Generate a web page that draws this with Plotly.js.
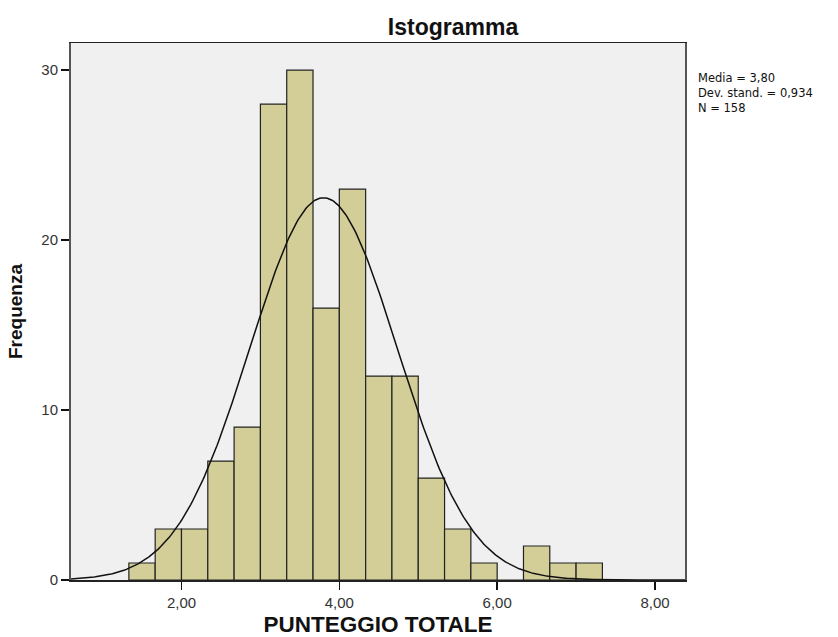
<!DOCTYPE html>
<html>
<head>
<meta charset="utf-8">
<script src="https://cdn.plot.ly/plotly-3.0.1.min.js"></script>
<style>
html,body{margin:0;padding:0;background:#fff;}
#chart{width:838px;height:637px;}
</style>
</head>
<body>
<div id="chart"></div>
<script>
// Histogram bins (left edges) and counts
const binLeft = [4/3, 5/3, 2, 7/3, 8/3, 3, 10/3, 11/3, 4, 13/3, 14/3, 5, 16/3, 17/3, 6, 19/3, 20/3, 7];
const counts  = [1, 3, 3, 7, 9, 28, 30, 16, 23, 12, 12, 6, 3, 1, 0, 2, 1, 1];
const binWidth = 1/3;

// Summary statistics shown on the chart
const statMean = 3.80;
const statSD = 0.934;
const statN = 158;

// Axis ticks
const xTickVals = [2, 4, 6, 8];
const xTickText = ['2,00', '4,00', '6,00', '8,00'];
const yTickVals = [0, 10, 20, 30];
const yTickText = ['0', '10', '20', '30'];

const statLines = ['Media = 3,80', 'Dev. stand. = 0,934', 'N = 158'];

const xRange = [0.60, 8.38];
const yRange = [0, 31.6];

const binCenters = binLeft.map(v => v + binWidth / 2);

// Fitted normal curve defined by the chart's mean, SD and N
const curveX = [], curveY = [];
for (let i = 0; i <= 400; i++) {
  const x = xRange[0] + (xRange[1] - xRange[0]) * i / 400;
  const z = (x - statMean) / statSD;
  curveX.push(x);
  curveY.push(statN * binWidth / (statSD * Math.sqrt(2 * Math.PI)) * Math.exp(-0.5 * z * z));
}

const traces = [
  {
    type: 'bar',
    x: binCenters,
    y: counts,
    width: binWidth,
    marker: {color: '#d3ce97', line: {color: '#222222', width: 1.2}},
    hoverinfo: 'x+y',
    showlegend: false
  },
  {
    type: 'scatter',
    mode: 'lines',
    x: curveX,
    y: curveY,
    line: {color: '#111111', width: 1.5},
    hoverinfo: 'skip',
    showlegend: false
  }
];

const annotations = [{
  xref: 'paper', yref: 'paper',
  x: (696 - 71) / 614,
  y: (580 - 69) / 537,
  xanchor: 'left', yanchor: 'top',
  align: 'left',
  text: statLines.join('<br>'),
  showarrow: false,
  font: {family: 'DejaVu Sans, Arial, sans-serif', size: 11.5, color: '#111111'}
}];

const layout = {
  width: 838,
  height: 637,
  margin: {l: 71, r: 153, t: 43, b: 57},
  paper_bgcolor: '#ffffff',
  plot_bgcolor: '#f0f0f0',
  bargap: 0,
  title: {
    text: '<b>Istogramma</b>',
    font: {family: 'Liberation Sans, Arial, sans-serif', size: 23, color: '#111111'},
    x: 453 / 838, xanchor: 'center',
    y: 1 - 27 / 637, yanchor: 'middle'
  },
  xaxis: {
    range: xRange,
    tickvals: xTickVals,
    ticktext: xTickText,
    ticks: 'outside', ticklen: 8, tickwidth: 1.5, tickcolor: '#111111',
    tickfont: {family: 'Liberation Sans, Arial, sans-serif', size: 15, color: '#333333'},
    showgrid: false, zeroline: false,
    showline: true, linecolor: '#222222', linewidth: 1.5, mirror: true,
    title: {
      text: '<b>PUNTEGGIO TOTALE</b>',
      font: {family: 'Liberation Sans, Arial, sans-serif', size: 22.5, color: '#111111'},
      standoff: 10
    }
  },
  yaxis: {
    range: yRange,
    tickvals: yTickVals,
    ticktext: yTickText,
    ticks: 'outside', ticklen: 8, tickwidth: 1.5, tickcolor: '#111111',
    tickfont: {family: 'Liberation Sans, Arial, sans-serif', size: 15, color: '#333333'},
    showgrid: false, zeroline: false,
    showline: true, linecolor: '#555555', linewidth: 2, mirror: true,
    title: {
      text: '<b>Frequenza</b>',
      font: {family: 'Liberation Sans, Arial, sans-serif', size: 19, color: '#111111'},
      standoff: 14
    }
  },
  annotations: annotations
};

Plotly.newPlot('chart', traces, layout, {displayModeBar: false, staticPlot: true});
</script>
</body>
</html>
